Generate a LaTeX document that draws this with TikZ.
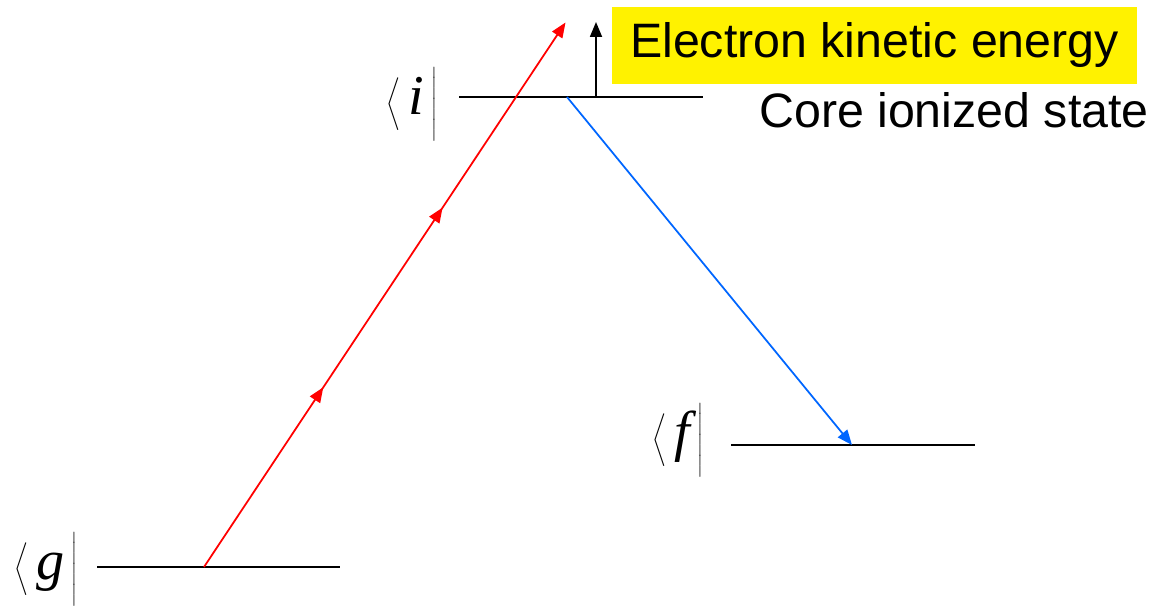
\documentclass[tikz,border=0pt]{standalone}
\usepackage{fontspec}
\setmainfont{Liberation Sans}
\newfontfamily\brafont{Liberation Serif}
\usetikzlibrary{arrows.meta,decorations.markings}
\definecolor{augerblue}{RGB}{0,102,255}
\newcommand{\brastate}[1]{$\left\langle\vrule height 25pt depth 16pt width 0pt\,\mbox{\brafont\itshape #1}\,\right|$}

\begin{document}
\begin{tikzpicture}[
 level/.style={line width=1pt},
 bra/.style={font=\fontsize{32}{38}\selectfont,inner sep=0pt},
 lbl/.style={font=\fontsize{27.5}{32}\selectfont,inner sep=0pt},
 excite/.style={red,line width=1pt,-{Triangle[length=3mm,width=2.4mm]},
  postaction={decorate},decoration={markings,
  mark=at position 0.33 with {\arrow{Triangle[length=3mm,width=2.4mm]}},
  mark=at position 0.66 with {\arrow{Triangle[length=3mm,width=2.4mm]}}}},
 decay/.style={augerblue,line width=1pt,-{Triangle[length=3mm,width=2.4mm]}}]
\useasboundingbox (0,0) rectangle (23.06,12.18);
% energy levels
\coordinate (g-l) at (1.94,0.84);  \coordinate (g-r) at (6.8,0.84);
\coordinate (i-l) at (9.18,10.24); \coordinate (i-r) at (14.06,10.24);
\coordinate (f-l) at (14.62,3.28); \coordinate (f-r) at (19.5,3.28);
\draw[level] (g-l)--(g-r);
\draw[level] (i-l)--(i-r);
\draw[level] (f-l)--(f-r);
\node[bra] (g) at (0.92,0.78) {\brastate{g}};
\node[bra] (i) at (8.24,10.08) {\brastate{i}};
\node[bra] (f) at (13.56,3.36) {\brastate{f}};
% transitions
\coordinate (g-x) at (4.08,0.84);
\coordinate (out) at (11.31,11.73);
\coordinate (i-x) at (11.34,10.24);
\coordinate (f-x) at (17.04,3.28);
\coordinate (i-k) at (11.92,10.24);
\coordinate (k-top) at (11.92,11.74);
\draw[excite] (g-x)--(out);
\draw[decay] (i-x)--(f-x);
\draw[line width=1pt,-{Triangle[length=3mm,width=2.4mm]}] (i-k)--(k-top);
\node[lbl,fill=yellow,minimum width=10.5cm,minimum height=1.54cm] (ke) at (17.49,11.27) {\raisebox{-3pt}{Electron kinetic energy}};
\node[lbl] (core) at (19.08,9.98) {Core ionized state};
\end{tikzpicture}
\end{document}
